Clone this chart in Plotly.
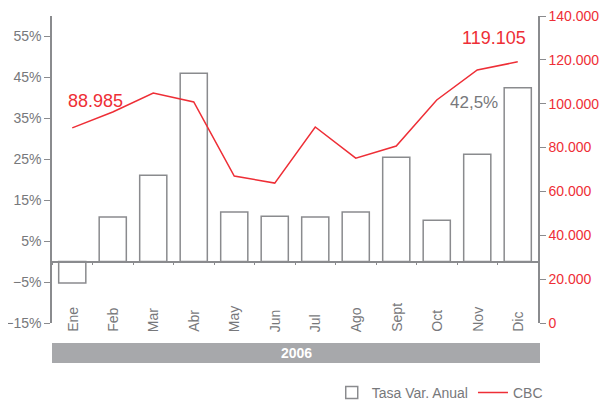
import plotly.graph_objects as go

months = ["Ene", "Feb", "Mar", "Abr", "May", "Jun", "Jul", "Ago", "Sept", "Oct", "Nov", "Dic"]
tasa = [-5.2, 10.9, 21.1, 46.0, 12.1, 11.1, 10.9, 12.1, 25.5, 10.1, 26.2, 42.5]
cbc = [88985, 96200, 104900, 100800, 67000, 63800, 89400, 75200, 80700, 101700, 115400, 119105]
year_label = "2006"

GRAY = "#77787b"
RED = "#ee2e36"
FONT = "Liberation Sans"

fig = go.Figure()
fig.add_trace(go.Bar(
    x=months, y=tasa, name="Tasa Var. Anual", width=0.67,
    marker=dict(color="white", line=dict(color="#8a8b8e", width=1.5)),
    yaxis="y", xaxis="x",
))
fig.add_trace(go.Scatter(
    x=months, y=cbc, name="CBC", mode="lines",
    line=dict(color=RED, width=1.5), yaxis="y2", xaxis="x",
))

fig.update_layout(
    width=605, height=393,
    margin=dict(l=44, r=75, t=8, b=78, autoexpand=False),
    paper_bgcolor="white", plot_bgcolor="white",
    separators=",.",
    font=dict(family=FONT, color=GRAY, size=14),
    showlegend=True,
    legend=dict(orientation="h", x=1.02, xanchor="right", y=-0.228, yanchor="middle",
                font=dict(size=14, color=GRAY), bgcolor="rgba(0,0,0,0)",
                tracegroupgap=0),
    bargap=0.33,
    xaxis=dict(
        type="category", range=[-0.5, 11.5], automargin=False,
        anchor="free", position=(323 - 261.5) / 307,
        showline=True, linecolor="#8a8b8e", linewidth=1.5,
        ticks="outside", ticklen=3, tickcolor="#8a8b8e", tickson="boundaries",
        showticklabels=False, showgrid=False, zeroline=False,
    ),
    yaxis=dict(
        range=[-15, 60], tick0=-15, dtick=10, ticksuffix="%", automargin=False,
        ticklabeloverflow="allow",
        showline=True, linecolor="#8a8b8e", linewidth=1.5,
        ticks="outside", ticklen=6, tickcolor="#8a8b8e",
        showgrid=False, zeroline=False,
        tickfont=dict(color=GRAY, size=14),
    ),
    yaxis2=dict(
        overlaying="y", side="right", range=[0, 140000], dtick=20000,
        tickformat=",d", automargin=False, ticklabeloverflow="allow",
        showline=True, linecolor="#8a8b8e", linewidth=1.5,
        ticks="outside", ticklen=6, tickcolor="#8a8b8e",
        showgrid=False, zeroline=False,
        tickfont=dict(color=RED, size=14),
    ),
)

# Month labels rotated at bottom of plot
for m in months:
    fig.add_annotation(x=m, xref="x", y=(323 - 334) / 307, yref="paper",
                       text=m, textangle=-90, showarrow=False,
                       yanchor="bottom", xanchor="center",
                       font=dict(size=14, color=GRAY, family=FONT))

# Year band
fig.add_shape(type="rect", xref="paper", yref="paper",
              x0=0, x1=(540 - 52) / 486, y0=(323 - 363) / 307, y1=(323 - 343) / 307,
              fillcolor="#a7a8ab", line=dict(width=0), layer="above")
fig.add_annotation(xref="paper", yref="paper", x=(296 - 52) / 486, y=(323 - 353) / 307,
                   text="<b>" + year_label + "</b>", showarrow=False,
                   font=dict(size=14, color="white", family=FONT),
                   xanchor="center", yanchor="middle")

# Value annotations
fig.add_annotation(x=months[0], xref="x", y=cbc[0], yref="y2", text="88.985",
                   showarrow=False, xanchor="left", yanchor="bottom", xshift=-6, yshift=15,
                   font=dict(size=18, color=RED, family=FONT))
fig.add_annotation(x=months[-1], xref="x", y=cbc[-1], yref="y2", text="119.105",
                   showarrow=False, xanchor="right", yanchor="bottom", xshift=10, yshift=12,
                   font=dict(size=18, color=RED, family=FONT))
fig.add_annotation(x=months[-1], xref="x", y=tasa[-1], yref="y", text="42,5%",
                   showarrow=False, xanchor="right", yanchor="top", xshift=-18, yshift=-3,
                   font=dict(size=17, color=GRAY, family=FONT))

fig.write_html("out.html")
